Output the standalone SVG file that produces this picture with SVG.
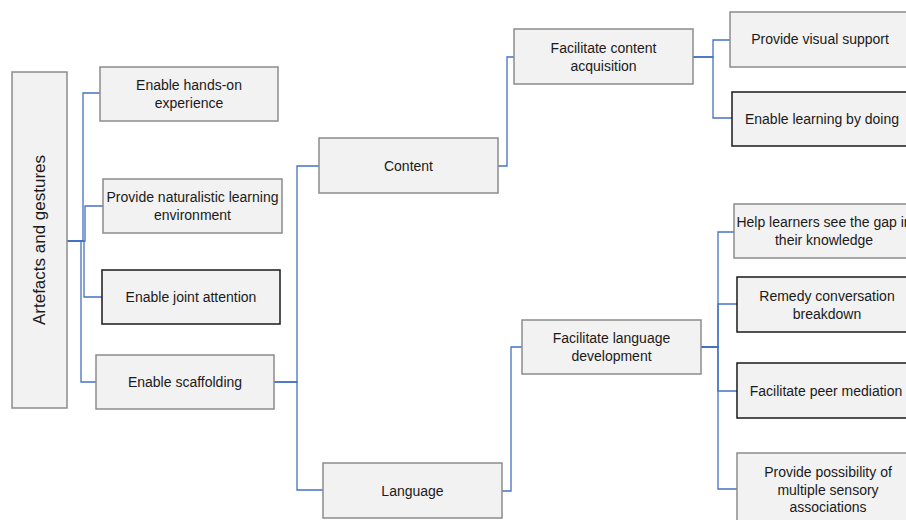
<svg xmlns="http://www.w3.org/2000/svg" width="906" height="520" viewBox="0 0 906 520">
<style>
.box{fill:#f2f2f2;stroke:#8c8c8c;stroke-width:1.5}
.dark{fill:#f2f2f2;stroke:#1a1a1a;stroke-width:1.5}
text{font-family:"Liberation Sans",Arial,sans-serif;font-size:14px;fill:#1a1a1a;text-anchor:middle}
.c{fill:none;stroke:#4472c4;stroke-width:1.3}
</style>
<rect width="906" height="520" fill="#ffffff"/>
<g id="connectors">
<path class="c" d="M67,241 H83 V93 H100"/>
<path class="c" d="M67,241 H85 V206 H103"/>
<path class="c" d="M67,241 H84 V297 H102"/>
<path class="c" d="M67,241 H81 V382 H96"/>
<path class="c" d="M274,382 H297 V166 H319"/>
<path class="c" d="M274,382 H297 V490 H323"/>
<path class="c" d="M498,166 H507 V57 H514"/>
<path class="c" d="M502,491 H511 V347 H522"/>
<path class="c" d="M693,57 H713 V40 H730"/>
<path class="c" d="M693,57 H713 V118 H732"/>
<path class="c" d="M701,347 H718 V232 H734"/>
<path class="c" d="M701,347 H718 V304 H737"/>
<path class="c" d="M701,347 H718 V391 H737"/>
<path class="c" d="M701,347 H718 V489 H737"/>
</g>
<g id="artefacts">
<rect class="box" x="12" y="72" width="55" height="336"/>
<text x="0" y="0" font-size="17" style="font-size:17px" transform="translate(45,240) rotate(-90)">Artefacts and gestures</text>
</g>
<g id="hands-on">
<rect class="box" x="100" y="67" width="178" height="54"/>
<text x="189" y="90">Enable hands-on</text>
<text x="189" y="108">experience</text>
</g>
<g id="naturalistic">
<rect class="box" x="103" y="179" width="179" height="54"/>
<text x="192.5" y="202">Provide naturalistic learning</text>
<text x="192.5" y="220">environment</text>
</g>
<g id="joint-attention">
<rect class="dark" x="102" y="270" width="178" height="54"/>
<text x="191" y="302">Enable joint attention</text>
</g>
<g id="scaffolding">
<rect class="box" x="96" y="355" width="178" height="54"/>
<text x="185" y="387">Enable scaffolding</text>
</g>
<g id="content">
<rect class="box" x="319" y="138" width="179" height="55"/>
<text x="408.5" y="171">Content</text>
</g>
<g id="language">
<rect class="box" x="323" y="463" width="179" height="55"/>
<text x="412.5" y="496">Language</text>
</g>
<g id="content-acquisition">
<rect class="box" x="514" y="29" width="179" height="55"/>
<text x="603.5" y="53">Facilitate content</text>
<text x="603.5" y="71">acquisition</text>
</g>
<g id="language-development">
<rect class="box" x="522" y="320" width="179" height="54"/>
<text x="611.5" y="343">Facilitate language</text>
<text x="611.5" y="361">development</text>
</g>
<g id="visual-support">
<rect class="box" x="730" y="12" width="182" height="55"/>
<text x="820" y="44">Provide visual support</text>
</g>
<g id="learning-by-doing">
<rect class="dark" x="732" y="92" width="182" height="54"/>
<text x="822" y="124">Enable learning by doing</text>
</g>
<g id="help-learners">
<rect class="box" x="734" y="204" width="182" height="54"/>
<text x="824" y="227">Help learners see the gap in</text>
<text x="824" y="245">their knowledge</text>
</g>
<g id="remedy">
<rect class="dark" x="737" y="277" width="182" height="55"/>
<text x="827" y="301">Remedy conversation</text>
<text x="827" y="319">breakdown</text>
</g>
<g id="peer-mediation">
<rect class="dark" x="737" y="363" width="182" height="55"/>
<text x="826" y="396">Facilitate peer mediation</text>
</g>
<g id="sensory">
<rect class="box" x="737" y="453" width="182" height="75"/>
<text x="828" y="477">Provide possibility of</text>
<text x="828" y="495">multiple sensory</text>
<text x="828" y="512">associations</text>
</g>
</svg>
